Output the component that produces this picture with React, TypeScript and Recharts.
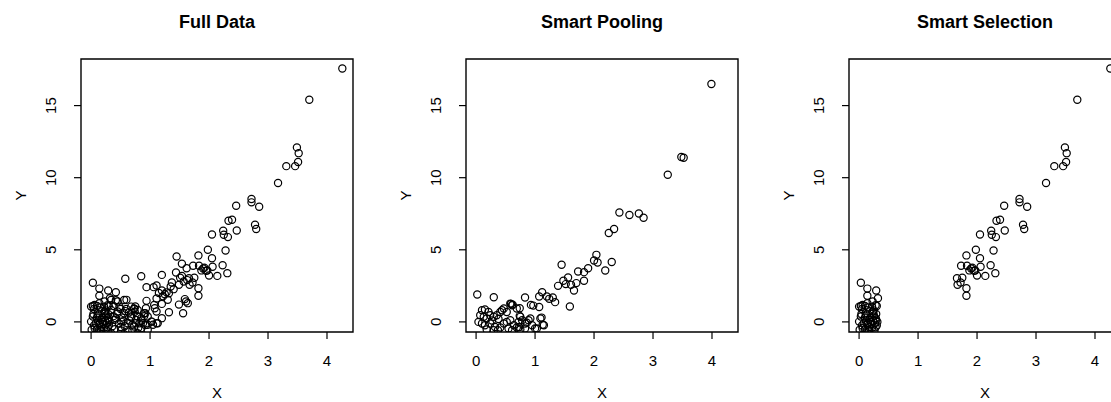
import React from 'react';
import { ScatterChart, Scatter, XAxis, YAxis, ReferenceArea } from 'recharts';

const FONT = '"Liberation Sans", Arial, Helvetica, sans-serif';

// shared axis setup (R style: ylim/xlim padded by 4%)
const X_DOMAIN: [number, number] = [-0.171, 4.441];
const Y_DOMAIN: [number, number] = [-0.7, 18.23];
const X_TICKS = [0, 1, 2, 3, 4];
const Y_TICKS = [0, 5, 10, 15];

const TITLES = ['Full Data', 'Smart Pooling', 'Smart Selection'];

// Full data: [x, y]
const FULL_DATA: [number, number][] = [
  [4.26, 17.57], [3.70, 15.40], [3.49, 12.10], [3.52, 11.70], [3.51, 11.09], [3.46, 10.80],
  [3.31, 10.80], [3.17, 9.63], [2.72, 8.52], [2.72, 8.29], [2.85, 7.99], [2.46, 8.05],
  [2.78, 6.74], [2.80, 6.44], [2.47, 6.34], [2.33, 7.01], [2.39, 7.08], [2.24, 6.32],
  [2.25, 6.04], [2.32, 5.88], [2.05, 6.06], [1.98, 5.00], [2.28, 4.95], [2.05, 4.42],
  [1.82, 4.61], [1.45, 4.54], [1.54, 4.03], [2.23, 3.93], [2.06, 3.82], [1.97, 3.57],
  [2.00, 3.22], [2.14, 3.19], [2.31, 3.38], [1.73, 3.89], [1.83, 3.89], [1.90, 3.70],
  [1.87, 3.57], [1.62, 3.72], [1.44, 3.43], [1.51, 3.06], [1.54, 3.19], [1.66, 3.03],
  [1.75, 3.06], [1.72, 2.73], [1.67, 2.57], [1.49, 2.57], [1.37, 2.73], [1.40, 2.27],
  [1.32, 1.99], [1.25, 1.92], [1.20, 3.26], [1.20, 2.18], [1.22, 1.78], [1.30, 1.53],
  [1.20, 1.25], [1.11, 1.62], [1.11, 2.52], [1.06, 2.41], [0.94, 2.41], [0.85, 3.17],
  [0.58, 2.99], [0.94, 1.46], [1.07, 1.18], [1.08, 0.95], [1.11, 0.72], [0.93, 0.95],
  [0.92, 0.60], [1.32, 0.67], [1.56, 0.60], [1.61, 1.41], [1.59, 1.58], [1.64, 1.30],
  [1.49, 1.20], [1.82, 1.81], [1.82, 2.34], [1.20, 0.26], [1.11, -0.09], [1.03, 0.02],
  [0.85, 0.10], [0.82, -0.09], [0.92, -0.21], [0.76, -0.10], [0.75, 1.07], [0.73, 0.90],
  [0.74, 0.70], [0.60, 1.53], [0.42, 2.06], [0.29, 2.18], [0.14, 2.31], [0.14, 1.81],
  [0.03, 2.71], [0.03, 1.11], [0.10, 1.11], [0.32, 1.64], [1.15, 2.00], [1.28, 2.05],
  [1.35, 2.45], [1.57, 2.80], [1.63, 2.90], [1.95, 3.55], [1.92, 3.75],
  [0.06, 1.18], [0.00, 1.06], [0.14, 1.29], [0.23, 1.41], [0.34, 1.52], [0.45, 1.41],
  [0.56, 1.52], [0.68, 1.06], [0.73, 0.94], [0.79, 0.83], [0.90, 0.60], [0.96, 0.37],
  [1.02, 0.02], [0.88, -0.09], [0.76, 0.14], [0.68, 0.37], [0.56, 0.60], [0.45, 0.72],
  [0.34, 0.83], [0.23, 0.72], [0.11, 0.60], [0.03, 0.37], [0.00, 0.02], [0.08, -0.09],
  [0.17, 0.14], [0.28, 0.25], [0.40, 0.14], [0.51, 0.02], [0.62, -0.09], [0.73, -0.32],
  [0.85, -0.44], [0.96, -0.55], [0.06, -0.44], [0.17, -0.55], [0.28, -0.37], [0.40, -0.51],
  [0.51, -0.60], [0.62, -0.67], [0.01, -0.55], [0.11, -0.78], [0.34, -0.78], [0.56, -0.85],
  [0.79, -0.78], [0.96, -0.20], [1.05, -0.20], [1.13, -0.09],
  [0.05, 0.90], [0.15, 1.00], [0.22, 1.05], [0.28, 1.15], [0.30, 1.10], [0.25, 0.80],
  [0.18, 0.75], [0.10, 0.30], [0.12, 0.10], [0.14, -0.20], [0.20, 0.00], [0.22, -0.40],
  [0.25, 0.45], [0.27, -0.10], [0.29, 0.55], [0.30, -0.25], [0.31, 0.00], [0.05, -0.25],
  [0.10, -0.50], [0.16, -0.65], [0.19, 0.30], [0.24, 0.60], [0.26, -0.60], [0.12, 0.45],
  [0.21, -0.15], [0.04, 0.55], [0.15, -0.05], [0.29, 0.15], [0.18, -0.35], [0.24, 0.05],
  [0.38, 0.40], [0.42, 0.25], [0.47, -0.10], [0.52, 0.30], [0.57, -0.30], [0.60, 0.90],
  [0.65, 0.10], [0.70, -0.20], [0.78, 0.40], [0.80, -0.40], [0.90, 0.40], [0.36, -0.30],
  [0.44, 0.55], [0.50, -0.35], [0.55, 0.05], [0.68, 0.30], [0.70, -0.60], [0.38, 1.10],
  [0.48, 1.05], [0.58, 0.75], [0.64, 0.65], [0.42, 1.50], [0.85, 0.25], [0.50, 0.90],
];

// Smart pooling: [x, y]
const POOLED_DATA: [number, number][] = [
  [3.99, 16.50], [3.48, 11.43], [3.52, 11.38], [3.25, 10.20], [2.43, 7.59], [2.60, 7.41],
  [2.76, 7.52], [2.84, 7.22], [2.34, 6.44], [2.25, 6.16], [2.04, 4.65], [2.00, 4.26],
  [2.06, 4.12], [2.30, 4.15], [2.19, 3.56], [1.90, 3.72], [1.83, 3.45], [1.73, 3.50],
  [1.83, 2.85], [1.70, 2.69], [1.61, 2.57], [1.66, 2.18], [1.56, 3.08], [1.45, 3.96],
  [1.48, 2.85], [1.52, 2.62], [1.39, 2.50], [1.59, 1.07], [1.12, 2.06], [1.07, 1.76],
  [1.20, 1.76], [1.24, 1.60], [1.30, 1.69], [1.34, 1.37], [0.83, 1.69], [0.30, 1.71],
  [0.02, 1.90], [0.93, 1.18], [0.97, 1.13], [1.07, 1.03], [0.74, 0.95], [0.74, 0.42],
  [0.59, 1.25], [0.62, 1.20], [1.11, 0.30], [1.13, -0.20], [1.00, -0.45], [0.86, -0.05],
  [0.73, -0.35],
  [0.10, 0.81], [0.15, 0.86], [0.21, 0.69], [0.07, 0.46], [0.13, 0.35], [0.18, 0.24],
  [0.24, 0.46], [0.30, 0.35], [0.35, 0.46], [0.41, 0.69], [0.44, 0.81], [0.47, 0.93],
  [0.52, 0.69], [0.58, 1.27], [0.61, 1.16], [0.69, 0.93], [0.75, 0.35], [0.72, 0.00],
  [0.78, 0.12], [0.83, -0.11], [0.89, 0.12], [0.92, 0.24], [0.95, -0.23], [1.03, -0.46],
  [1.09, 0.24], [1.15, -0.23], [0.04, 0.00], [0.10, -0.11], [0.15, -0.23], [0.24, -0.11],
  [0.32, -0.35], [0.41, -0.39], [0.47, -0.11], [0.52, 0.00], [0.58, 0.12], [0.64, -0.23],
  [0.69, -0.39], [0.75, -0.53], [0.83, -0.46], [0.18, -0.53], [0.30, -0.58], [0.37, -0.58],
  [0.55, -0.46], [0.61, -0.58], [0.27, 0.10], [0.38, 0.20],
];

// Smart selection keeps the full-data points in the two tails of X
const SELECTED_DATA = FULL_DATA.filter(([x]) => x < 0.33 || x > 1.65);

const toPts = (rows: [number, number][]) => rows.map(([x, y]) => ({ x, y }));

const Ring = (p: any) => (
  <circle cx={p.cx} cy={p.cy} r={3.6} fill="none" stroke="#000" strokeWidth={1.2} />
);

const YTick = ({ x, y, payload }: any) => (
  <text
    x={x}
    y={y}
    transform={`rotate(-90, ${x}, ${y})`}
    textAnchor="middle"
    fontSize={15}
    fontFamily={FONT}
    fill="#000"
  >
    {payload.value}
  </text>
);

const XTitle = () => (
  <text x={217} y={398} textAnchor="middle" fontSize={15} fontFamily={FONT} fill="#000">
    X
  </text>
);

const YTitle = () => (
  <text
    x={26}
    y={195.5}
    transform="rotate(-90, 26, 195.5)"
    textAnchor="middle"
    fontSize={15}
    fontFamily={FONT}
    fill="#000"
  >
    Y
  </text>
);

const Panel: React.FC<{ left: number; title: string; rows: [number, number][] }> = ({ left, title, rows }) => (
  <div style={{ position: 'absolute', left, top: 0, width: 384, height: 402 }}>
    <div
      style={{
        position: 'absolute',
        left: 81,
        top: 13,
        width: 272,
        textAlign: 'center',
        font: `bold 18px ${FONT}`,
        lineHeight: '18px',
        color: '#000',
        whiteSpace: 'nowrap',
      }}
    >
      {title}
    </div>
    <ScatterChart width={384} height={402} margin={{ top: 59, right: 31, bottom: 30, left: 21 }}>
      <XAxis
        type="number"
        dataKey="x"
        domain={X_DOMAIN}
        ticks={X_TICKS}
        allowDataOverflow
        axisLine={false}
        tickSize={7}
        tickLine={{ stroke: '#000', strokeWidth: 1.2 }}
        tick={{ fill: '#000', fontSize: 15, fontFamily: FONT }}
        tickMargin={16}
        height={40}
        label={<XTitle />}
      />
      <YAxis
        type="number"
        dataKey="y"
        domain={Y_DOMAIN}
        ticks={Y_TICKS}
        allowDataOverflow
        axisLine={false}
        tickSize={7}
        tickLine={{ stroke: '#000', strokeWidth: 1.2 }}
        tick={<YTick />}
        tickMargin={18}
        width={60}
        label={<YTitle />}
      />
      <ReferenceArea
        x1={X_DOMAIN[0]}
        x2={X_DOMAIN[1]}
        y1={Y_DOMAIN[0]}
        y2={Y_DOMAIN[1]}
        fill="none"
        stroke="#000"
        strokeWidth={1.4}
        fillOpacity={0}
      />
      <Scatter data={toPts(rows)} shape={Ring} isAnimationActive={false} />
    </ScatterChart>
  </div>
);

export default function App() {
  return (
    <div
      style={{
        position: 'absolute',
        left: 0,
        top: 0,
        width: 1111,
        height: 402,
        overflow: 'hidden',
        background: '#fff',
      }}
    >
      <Panel left={0} title={TITLES[0]} rows={FULL_DATA} />
      <Panel left={385} title={TITLES[1]} rows={POOLED_DATA} />
      <Panel left={768} title={TITLES[2]} rows={SELECTED_DATA} />
    </div>
  );
}
